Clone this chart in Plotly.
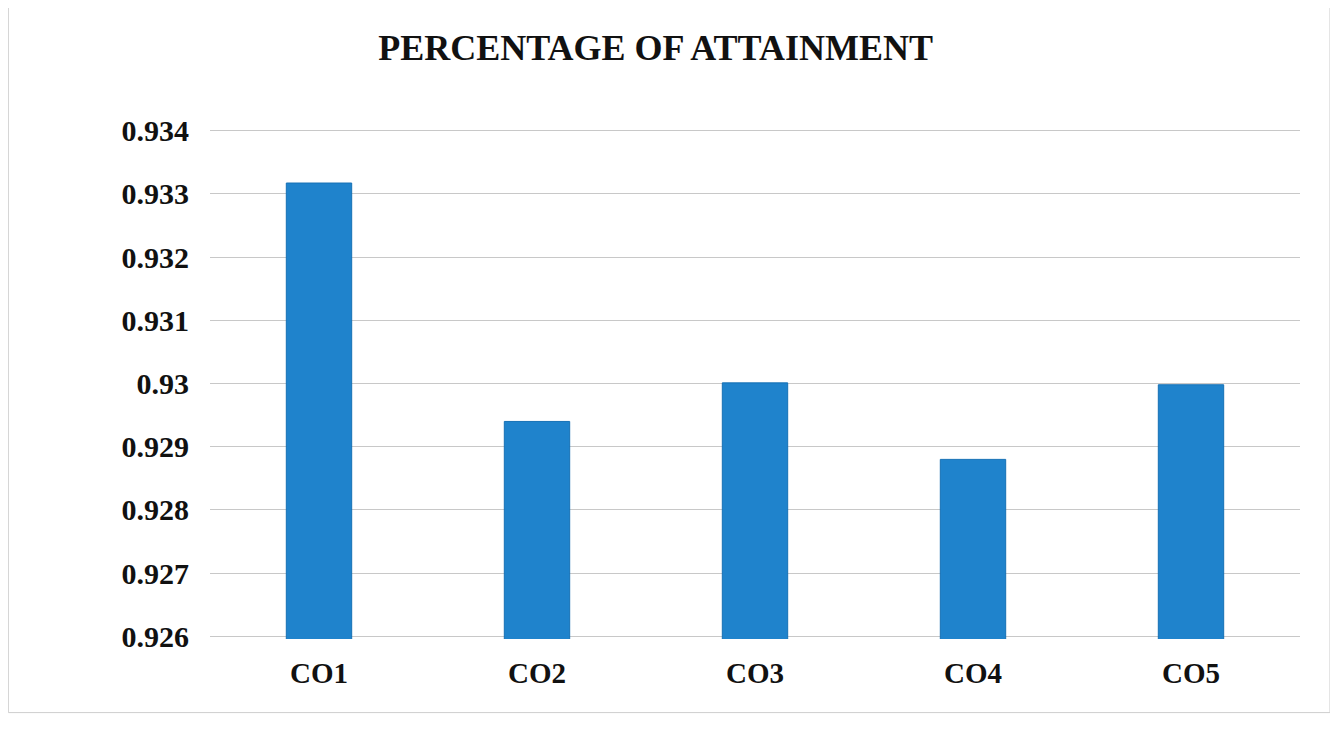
import plotly.graph_objects as go

categories = ['CO1', 'CO2', 'CO3', 'CO4', 'CO5']
attainment = [0.93317, 0.92940, 0.93001, 0.92880, 0.92998]

y_ticks = [0.926, 0.927, 0.928, 0.929, 0.930, 0.931, 0.932, 0.933, 0.934]
y_tick_labels = ['0.926', '0.927', '0.928', '0.929', '0.93', '0.931', '0.932', '0.933', '0.934']

serif = 'Liberation Serif, Times New Roman, serif'

fig = go.Figure()

fig.add_trace(go.Bar(
    x=categories,
    y=attainment,
    marker=dict(color='#1f83cc', line=dict(color='#1670b5', width=1)),
    showlegend=False,
))

# outer chart frame
fig.add_shape(
    type='rect', xref='paper', yref='paper',
    x0=-0.185, x1=1.0275, y0=-0.144, y1=1.24,
    line=dict(color='#cfcfcf', width=1),
)

fig.update_layout(
    width=1338,
    height=739,
    paper_bgcolor='white',
    plot_bgcolor='white',
    margin=dict(l=202, r=46, t=120, b=108),
    bargap=0.7,
    title=dict(
        text='<b>PERCENTAGE OF ATTAINMENT</b>',
        x=0.484, xanchor='center',
        y=1 - 39 / 739, yanchor='middle',
        font=dict(family=serif, size=36, color='#111111'),
    ),
    xaxis=dict(
        showgrid=False,
        showline=False,
        tickvals=categories,
        ticktext=['<b>%s</b>' % c for c in categories],
        tickfont=dict(family=serif, size=29, color='#111111'),
        ticklabelstandoff=14,
    ),
    yaxis=dict(
        range=[0.92596, 0.93404],
        tickvals=y_ticks,
        ticktext=['<b>%s</b>' % t for t in y_tick_labels],
        showgrid=True,
        gridcolor='#c8c8c8',
        gridwidth=1,
        zeroline=False,
        showline=False,
        tickfont=dict(family=serif, size=30, color='#111111'),
        ticklabelstandoff=20,
    ),
)

fig.write_html('out.html')
